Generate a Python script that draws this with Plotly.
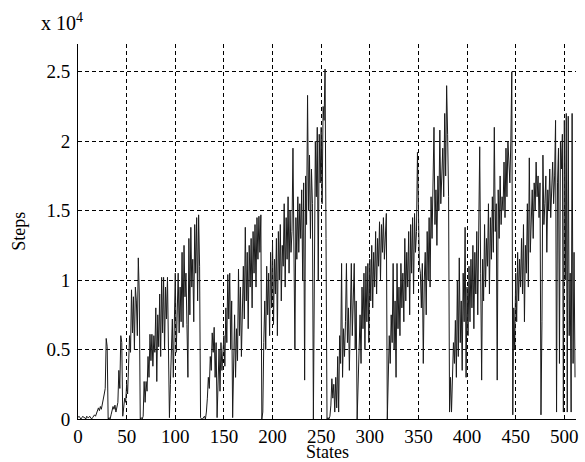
import plotly.graph_objects as go

# steps per state, in units of 10^4 (4 blocks of 128 states)
block1 = [
    0.01, 0.02, 0.01, 0.00, 0.01, 0.02, 0.01, 0.01, 0.00, 0.02,
    0.01, 0.01, 0.02, 0.01, 0.00, 0.01, 0.02, 0.03, 0.02, 0.04,
    0.05, 0.08, 0.06, 0.09, 0.07, 0.10, 0.15, 0.18, 0.22, 0.58,
    0.52, 0.00, 0.01, 0.00, 0.03, 0.06, 0.09, 0.07, 0.10, 0.05,
    0.09, 0.12, 0.35, 0.22, 0.60, 0.55, 0.02, 0.08, 0.15, 0.12,
    0.25, 0.18, 0.35, 0.60, 0.48, 0.93, 0.62, 0.88, 0.50, 0.95,
    0.85, 0.60, 1.16, 0.90, 0.00, 0.01, 0.00, 0.02, 0.27, 0.12,
    0.27, 0.20, 0.45, 0.30, 0.61, 0.42, 0.61, 0.38, 0.60, 0.48,
    0.80, 0.27, 0.75, 0.52, 0.90, 0.45, 1.02, 0.62, 1.02, 0.50,
    0.95, 0.72, 1.02, 0.55, 0.01, 0.25, 0.48, 0.72, 0.30, 0.75,
    1.05, 0.48, 0.80, 1.05, 0.62, 0.95, 0.70, 1.20, 0.66, 1.25,
    0.88, 1.05, 0.68, 0.30, 1.30, 0.75, 1.38, 0.95, 1.15, 0.70,
    1.40, 1.05, 1.45, 0.85, 1.47, 1.10, 0.01, 0.00,
]
block2 = [
    0.00, 0.01, 0.02, 0.00, 0.05, 0.15, 0.30, 0.22, 0.45, 0.35,
    0.62, 0.48, 0.66, 0.30, 0.55, 0.01, 0.28, 0.50, 0.20, 0.55,
    0.35, 0.48, 0.60, 0.38, 0.80, 0.55, 1.04, 0.72, 1.05, 0.50,
    0.85, 0.01, 0.40, 0.75, 0.30, 0.65, 0.42, 1.08, 0.60, 0.95,
    0.45, 0.80, 1.10, 0.72, 1.38, 0.85, 1.20, 0.65, 1.25, 0.95,
    1.30, 0.80, 1.35, 1.05, 1.40, 0.95, 1.45, 1.15, 1.46, 1.20,
    1.47, 0.00, 0.05, 0.55, 0.85, 0.50, 1.10, 0.75, 1.05, 0.60,
    1.20, 0.80, 1.27, 0.68, 1.15, 0.90, 1.30, 0.60, 1.35, 1.00,
    1.40, 0.85, 1.25, 1.10, 1.55, 0.95, 1.45, 1.15, 1.60, 1.05,
    1.50, 1.20, 1.35, 1.95, 1.10, 0.50, 1.45, 1.15, 1.60, 1.20,
    1.55, 1.30, 1.65, 1.00, 1.70, 0.28, 1.75, 1.40, 2.33, 1.50,
    1.90, 1.30, 1.80, 1.55, 0.00, 1.45, 2.00, 1.60, 2.10, 1.00,
    2.05, 1.70, 2.10, 1.55, 2.25, 2.15, 2.52, 1.30,
]
block3 = [
    0.00, 0.01, 0.00, 0.02, 0.10, 0.29, 0.15, 0.25, 0.05, 0.30,
    0.08, 0.45, 0.05, 0.60, 0.40, 1.12, 0.30, 0.65, 0.45, 0.70,
    1.12, 0.55, 0.80, 0.35, 0.95, 1.12, 0.60, 0.90, 1.12, 0.50,
    0.85, 0.00, 0.30, 0.60, 0.75, 0.40, 0.95, 0.65, 1.05, 0.50,
    1.10, 0.70, 1.12, 0.55, 1.15, 0.85, 1.25, 0.80, 1.20, 0.95,
    1.35, 0.90, 1.30, 1.10, 1.42, 1.00, 1.40, 1.20, 1.45, 1.15,
    1.35, 1.48, 0.00, 0.25, 0.60, 0.40, 0.75, 0.55, 1.12, 0.50,
    0.85, 0.30, 1.12, 0.65, 0.95, 0.60, 1.12, 0.80, 1.05, 0.70,
    1.30, 0.85, 1.20, 0.95, 1.35, 0.75, 1.40, 1.05, 1.45, 0.90,
    1.48, 1.20, 1.35, 1.92, 1.50, 1.10, 1.05, 0.80, 1.12, 0.40,
    1.00, 1.20, 0.75, 1.35, 1.00, 1.45, 0.95, 1.60, 1.30, 1.80,
    2.10, 1.40, 1.65, 1.25, 1.75, 1.50, 2.08, 1.55, 1.70, 1.95,
    1.60, 2.20, 1.75, 2.40, 2.05, 1.60, 0.05, 0.30,
]
block4 = [
    0.05, 0.30, 0.55, 0.40, 0.71, 0.30, 1.00, 0.45, 1.16, 0.55,
    0.85, 0.35, 1.05, 0.70, 1.38, 0.30, 0.95, 0.60, 1.10, 0.70,
    1.15, 0.80, 1.25, 0.65, 1.20, 0.90, 1.35, 0.75, 1.30, 1.96,
    1.05, 0.28, 1.15, 0.85, 1.40, 0.95, 1.30, 1.10, 1.55, 0.90,
    1.45, 1.15, 1.60, 1.20, 2.10, 1.35, 1.55, 0.28, 1.65, 1.30,
    1.75, 1.40, 1.60, 1.50, 1.85, 1.45, 1.95, 1.60, 2.00, 1.85,
    1.70, 2.00, 2.50, 0.03, 0.80, 0.50, 1.05, 0.70, 1.20, 0.85,
    1.15, 0.95, 1.30, 0.90, 1.40, 0.70, 1.25, 1.05, 1.55, 0.95,
    1.88, 1.20, 1.45, 1.65, 1.30, 1.70, 1.50, 1.85, 1.60, 1.75,
    1.45, 1.70, 0.03, 0.70, 1.90, 1.40, 1.55, 1.75, 1.20, 1.65,
    1.50, 1.80, 1.45, 1.65, 1.85, 1.55, 1.75, 2.15, 0.05, 1.70,
    1.95, 0.40, 2.00, 1.80, 2.05, 0.05, 2.15, 1.00, 2.20, 0.05,
    2.18, 0.60, 1.05, 0.05, 2.20, 0.40, 1.20, 0.30,
]

steps = block1 + block2 + block3 + block4
states = list(range(len(steps)))

x_ticks = [0, 50, 100, 150, 200, 250, 300, 350, 400, 450, 500]
y_ticks = [0, 0.5, 1, 1.5, 2, 2.5]
y_tick_labels = ["0", "0.5", "1", "1.5", "2", "2.5"]

FONT = "Liberation Serif, Times New Roman, serif"

fig = go.Figure()
fig.add_trace(go.Scatter(x=states, y=steps, mode="lines",
                         line=dict(color="#1a1a1a", width=1)))

axis_common = dict(
    showline=True, linecolor="black", linewidth=1, mirror=False,
    showgrid=True, gridcolor="black", gridwidth=1, griddash="4px,3px",
    zeroline=False, ticks="inside", ticklen=4, tickcolor="black",
    automargin=False,
    tickfont=dict(family=FONT, size=19, color="black"),
)

fig.update_xaxes(range=[0, 512], tickvals=x_ticks, ticklabelstandoff=0,
                 **axis_common)
fig.update_yaxes(range=[0, 2.7], tickvals=y_ticks, ticktext=y_tick_labels,
                 ticklabelstandoff=3, **axis_common)

title_font = dict(family=FONT, size=18, color="black")
fig.add_annotation(text="States", xref="paper", yref="paper",
                   x=0.5, y=-0.089, xanchor="center", yanchor="middle",
                   borderpad=0, showarrow=False, font=title_font)
fig.add_annotation(text="Steps", xref="paper", yref="paper",
                   x=-0.12, y=0.5, xanchor="center", yanchor="middle",
                   textangle=-90, showarrow=False, font=title_font)
fig.add_annotation(text="x 10<sup>4</sup>", xref="paper", yref="paper",
                   x=-0.078, y=1.02, xanchor="left", yanchor="bottom",
                   showarrow=False,
                   font=dict(family=FONT, size=20, color="black"))

fig.update_layout(
    width=585, height=462,
    margin=dict(l=78, r=9, t=44, b=43),
    plot_bgcolor="white", paper_bgcolor="white",
    showlegend=False,
)

# drop the browser's default 8px body margin so the figure fills the window
fig.write_html("out.html", config={"displayModeBar": False},
               post_script="document.body.style.margin='0';")
